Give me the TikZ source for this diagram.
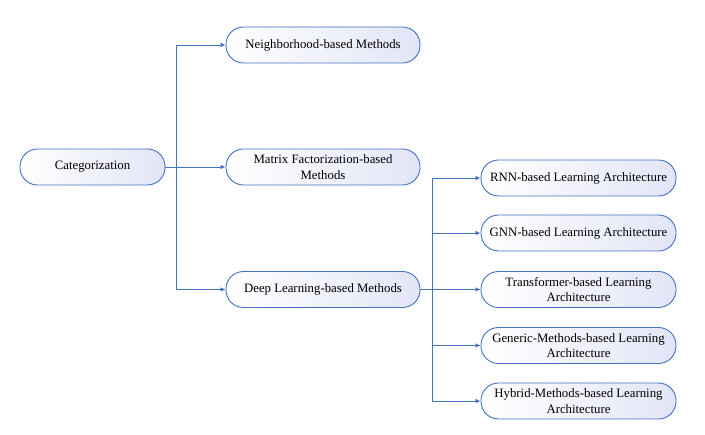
\documentclass[tikz,border=0pt]{standalone}
\usepackage{fontspec}
\setmainfont{Liberation Serif}
\usetikzlibrary{arrows.meta}
\definecolor{lineblue}{RGB}{68,114,196}
\definecolor{boxend}{RGB}{226,229,246}
\tikzset{
  box/.style={draw=lineblue, line width=0.9pt, rounded corners=17.5pt,
    left color=white, right color=boxend, minimum height=36pt,
    inner sep=2pt, align=center, text=black,
    font=\fontsize{12.8}{15.5}\selectfont},
  catbox/.style={box, minimum width=145pt},
  midbox/.style={box, minimum width=194pt},
  rightbox/.style={box, minimum width=195pt},
  conn/.style={draw=lineblue, line width=0.8pt},
  arr/.style={conn, -{Latex[length=5pt,width=4.5pt]}}
}
\begin{document}
\begin{tikzpicture}[x=1pt,y=-1pt]
\useasboundingbox (0,0) rectangle (705,435);
\node[catbox] (cat) at (92.5,167) {Categorization};
\node[midbox] (nb) at (323,45) {Neighborhood-based Methods};
\node[midbox] (mf) at (323,167) {Matrix Factorization-based\\Methods};
\node[midbox] (dl) at (323,289.5) {Deep Learning-based Methods};
\node[rightbox] (rnn) at (578.5,178) {RNN-based Learning Architecture};
\node[rightbox] (gnn) at (578.5,233) {GNN-based Learning Architecture};
\node[rightbox] (tr) at (578.5,289.5) {Transformer-based Learning\\Architecture};
\node[rightbox] (gm) at (578.5,345.5) {Generic-Methods-based Learning\\Architecture};
\node[rightbox] (hm) at (578.5,401) {Hybrid-Methods-based Learning\\Architecture};
\coordinate (j1) at (176,167);
\coordinate (j2) at (432,289.5);
\draw[conn] (cat.east) -- (j1);
\draw[arr] (j1) |- (nb.west);
\draw[arr] (j1) -- (mf.west);
\draw[arr] (j1) |- (dl.west);
\draw[conn] (dl.east) -- (j2);
\draw[arr] (j2) |- (rnn.west);
\draw[arr] (j2) |- (gnn.west);
\draw[arr] (j2) -- (tr.west);
\draw[arr] (j2) |- (gm.west);
\draw[arr] (j2) |- (hm.west);
\end{tikzpicture}
\end{document}
